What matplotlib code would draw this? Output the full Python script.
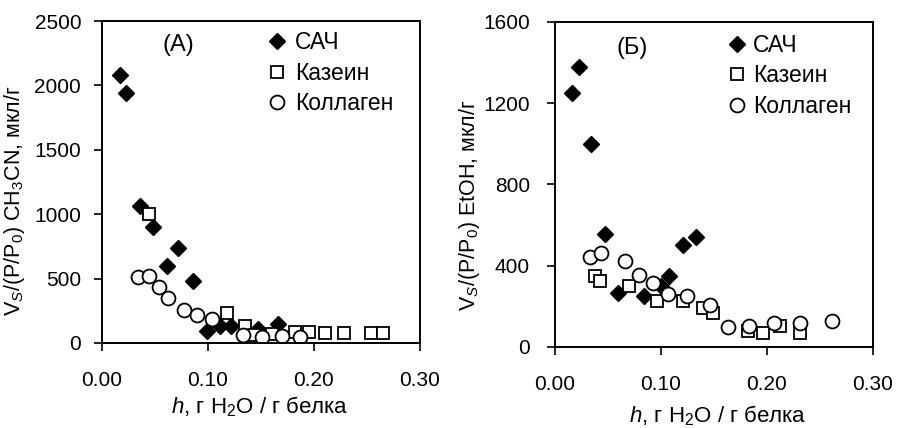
import matplotlib
matplotlib.use('Agg')
import matplotlib.pyplot as plt
from matplotlib.ticker import FormatStrFormatter

plt.rcParams['font.family'] = ['Liberation Sans', 'DejaVu Sans']
plt.rcParams['mathtext.fontset'] = 'custom'
plt.rcParams['mathtext.rm'] = 'Liberation Sans'
plt.rcParams['mathtext.it'] = 'Liberation Sans:italic'

# Panel A (CH3CN)
a_sah_x = [0.017, 0.023, 0.036, 0.048, 0.061, 0.072, 0.086, 0.099, 0.111, 0.122, 0.147, 0.166]
a_sah_y = [2080, 1940, 1065, 900, 600, 735, 485, 90, 130, 135, 110, 150]
a_kaz_x = [0.044, 0.118, 0.135, 0.143, 0.160, 0.182, 0.195, 0.210, 0.228, 0.254, 0.265]
a_kaz_y = [1000, 230, 130, 65, 70, 85, 85, 78, 78, 80, 80]
a_kol_x = [0.034, 0.044, 0.054, 0.062, 0.077, 0.090, 0.104, 0.133, 0.151, 0.170, 0.187]
a_kol_y = [510, 520, 435, 350, 260, 220, 185, 60, 50, 55, 50]

# Panel B (EtOH)
b_sah_x = [0.016, 0.023, 0.034, 0.047, 0.059, 0.084, 0.100, 0.108, 0.121, 0.133]
b_sah_y = [1250, 1380, 1000, 558, 265, 252, 298, 347, 501, 542]
b_kaz_x = [0.038, 0.0425, 0.070, 0.096, 0.121, 0.140, 0.149, 0.182, 0.196, 0.212, 0.231]
b_kaz_y = [347, 326, 298, 227, 224, 191, 166, 80, 68, 104, 68]
b_kol_x = [0.033, 0.043, 0.066, 0.079, 0.0925, 0.107, 0.125, 0.146, 0.163, 0.183, 0.207, 0.231, 0.261]
b_kol_y = [441, 463, 421, 352, 315, 260, 253, 207, 97, 104, 120, 120, 130]

labels = ['САЧ', 'Казеин', 'Коллаген']

fig = plt.figure(figsize=(9.08, 4.28), dpi=100)
ax1 = fig.add_axes([0.1123, 0.1986, 0.3502, 0.7523])
ax2 = fig.add_axes([0.6112, 0.1893, 0.3502, 0.7593])


def draw_panel(ax, sah, kaz, kol, ymax, ystep, ylabel, tag, ypad, ylab_pos, xlab_pos,
               tag_pos, leg_pos, textpad):
    ax.plot(sah[0], sah[1], 'D', color='black', markersize=8, linestyle='none', label=labels[0])
    ax.plot(kaz[0], kaz[1], 's', color='black', markerfacecolor='white', markeredgewidth=1.3,
            markersize=9, linestyle='none', label=labels[1])
    ax.plot(kol[0], kol[1], 'o', color='black', markerfacecolor='white', markeredgewidth=1.3,
            markersize=10, linestyle='none', label=labels[2])
    ax.set_xlim(0, 0.30)
    ax.set_ylim(0, ymax)
    ax.set_xticks([0, 0.1, 0.2, 0.3])
    ax.set_yticks(range(0, ymax + 1, ystep))
    ax.xaxis.set_major_formatter(FormatStrFormatter('%.2f'))
    ax.tick_params(direction='out', length=6, width=1.2, labelsize=15)
    ax.tick_params(axis='x', pad=14)
    ax.tick_params(axis='y', pad=ypad)
    for sp in ax.spines.values():
        sp.set_linewidth(1.4)
    ax.set_ylabel(ylabel, fontsize=15.5)
    ax.yaxis.set_label_coords(*ylab_pos)
    ax.set_xlabel(r'$h$, г H$_2$O / г белка', fontsize=16)
    ax.xaxis.set_label_coords(*xlab_pos)
    ax.text(tag_pos[0], tag_pos[1], tag, transform=ax.transAxes, fontsize=17,
            va='center', ha='center')
    ax.legend(loc='upper left', bbox_to_anchor=leg_pos, frameon=False, fontsize=16.5,
              handlelength=0.8, handletextpad=textpad, labelspacing=0.32,
              borderpad=0, borderaxespad=0)


draw_panel(ax1, (a_sah_x, a_sah_y), (a_kaz_x, a_kaz_y), (a_kol_x, a_kol_y), 2500, 500,
           r'V$_S$/(P/P$_0$) CH$_3$CN, мкл/г', '(A)', 9,
           (-0.235, 0.441), (0.497, -0.16), (0.24, 0.925), (0.521, 0.968), 0.4)
draw_panel(ax2, (b_sah_x, b_sah_y), (b_kaz_x, b_kaz_y), (b_kol_x, b_kol_y), 1600, 400,
           r'V$_S$/(P/P$_0$) EtOH, мкл/г', '(Б)', 12,
           (-0.228, 0.437), (0.51, -0.175), (0.243, 0.92), (0.543, 0.963), 0.3)

fig.savefig('out.png', dpi=100)
